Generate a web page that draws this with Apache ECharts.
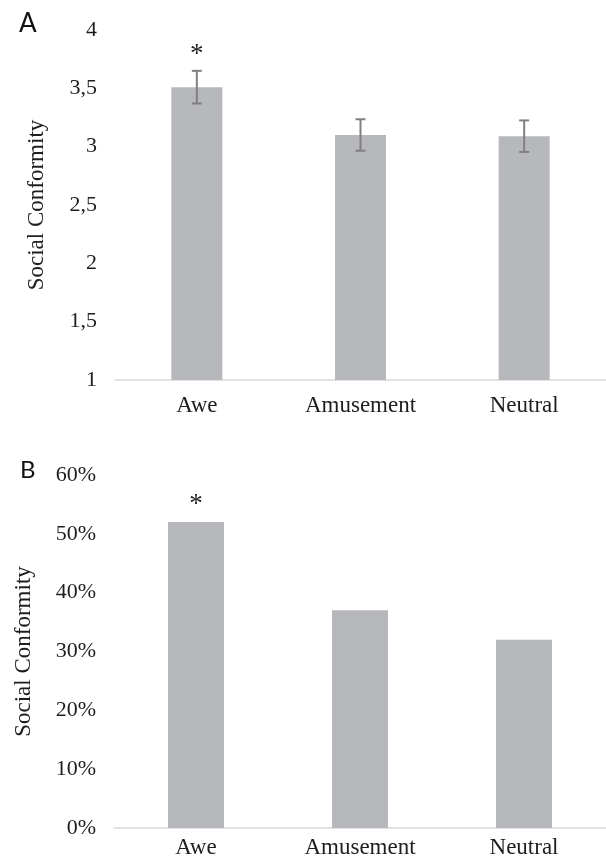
<!DOCTYPE html>
<html>
<head>
<meta charset="utf-8">
<script src="https://cdn.jsdelivr.net/npm/echarts@6/dist/echarts.min.js"></script>
<style>
html,body{margin:0;padding:0;background:#fff;}
#chart{width:606px;height:862px;}
</style>
</head>
<body>
<div id="chart"></div>
<script>
// ---- data ----
var categories = ['Awe', 'Amusement', 'Neutral'];
// Panel A: mean social conformity (scale 1-4) with error bars
var meanA = [3.51, 3.10, 3.09];
var errLowA = [3.37, 2.965, 2.955];
var errHighA = [3.65, 3.235, 3.225];
var sigA = ['*', '', ''];
var ticksA = { min: 1, max: 4, interval: 0.5 };
// Panel B: percentage conforming
var pctB = [52, 37, 32];
var sigB = ['*', '', ''];
var ticksB = { min: 0, max: 60, interval: 10 };
var panelLetters = ['A', 'B'];
var yTitle = 'Social Conformity';

var serif = '"Liberation Serif", "DejaVu Serif", serif';
var textColor = '#1e1e1e';
var barColor = '#b7b8bb';
var axisColor = '#d9d9d9';
var errColor = '#808080';

var errData = categories.map(function (c, i) { return [i, errLowA[i], errHighA[i]]; });

function errRender(params, api) {
  var hi = api.coord([api.value(0), api.value(2)]);
  var lo = api.coord([api.value(0), api.value(1)]);
  var half = 5;
  var style = { stroke: errColor, lineWidth: 2 };
  return {
    type: 'group',
    children: [
      { type: 'line', shape: { x1: hi[0], y1: hi[1], x2: lo[0], y2: lo[1] }, style: style },
      { type: 'line', shape: { x1: hi[0] - half, y1: hi[1], x2: hi[0] + half, y2: hi[1] }, style: style },
      { type: 'line', shape: { x1: lo[0] - half, y1: lo[1], x2: lo[0] + half, y2: lo[1] }, style: style }
    ]
  };
}

function xAx(gi) {
  return {
    type: 'category', gridIndex: gi, data: categories,
    axisLine: { lineStyle: { color: axisColor, width: 1.5 } },
    axisTick: { show: false },
    axisLabel: { color: textColor, fontFamily: serif, fontSize: 23, margin: gi === 0 ? 14 : 8 }
  };
}

var chart = echarts.init(document.getElementById('chart'));
chart.setOption({
  animation: false,
  backgroundColor: '#fff',
  title: [
    { text: panelLetters[0], left: 14, top: 6, textStyle: { fontFamily: 'Lato, "Open Sans", sans-serif', fontSize: 26, fontWeight: 'normal', color: '#111' } },
    { text: panelLetters[1], left: 15, top: 453, textStyle: { fontFamily: 'Lato, "Open Sans", sans-serif', fontSize: 24, fontWeight: 'normal', color: '#111' } }
  ],
  grid: [
    { left: 115, top: 30, width: 493, height: 350 },
    { left: 114, top: 475, width: 500, height: 353 }
  ],
  xAxis: [xAx(0), xAx(1)],
  yAxis: [
    {
      type: 'value', gridIndex: 0, min: ticksA.min, max: ticksA.max, interval: ticksA.interval,
      name: yTitle, nameLocation: 'middle', nameGap: 67,
      nameTextStyle: { fontFamily: serif, fontSize: 23, color: textColor },
      axisLine: { show: false }, axisTick: { show: false }, splitLine: { show: false },
      axisLabel: { color: textColor, fontFamily: serif, fontSize: 22, margin: 18,
        formatter: function (v) { return String(v).replace('.', ','); } }
    },
    {
      type: 'value', gridIndex: 1, min: ticksB.min, max: ticksB.max, interval: ticksB.interval,
      name: yTitle, nameLocation: 'middle', nameGap: 79,
      nameTextStyle: { fontFamily: serif, fontSize: 23, color: textColor },
      axisLine: { show: false }, axisTick: { show: false }, splitLine: { show: false },
      axisLabel: { color: textColor, fontFamily: serif, fontSize: 22, margin: 18,
        formatter: '{value}%' }
    }
  ],
  series: [
    {
      type: 'bar', xAxisIndex: 0, yAxisIndex: 0, data: meanA, barWidth: 51,
      itemStyle: { color: barColor },
      label: { show: true, position: 'top', distance: 19, fontFamily: serif, fontSize: 27, color: textColor,
        formatter: function (p) { return sigA[p.dataIndex]; } }
    },
    {
      type: 'custom', xAxisIndex: 0, yAxisIndex: 0, data: errData, renderItem: errRender,
      encode: { x: 0, y: [1, 2] }, z: 5
    },
    {
      type: 'bar', xAxisIndex: 1, yAxisIndex: 1, data: pctB, barWidth: 56,
      itemStyle: { color: barColor },
      label: { show: true, position: 'top', distance: 4, fontFamily: serif, fontSize: 27, color: textColor,
        formatter: function (p) { return sigB[p.dataIndex]; } }
    }
  ]
});
</script>
</body>
</html>
